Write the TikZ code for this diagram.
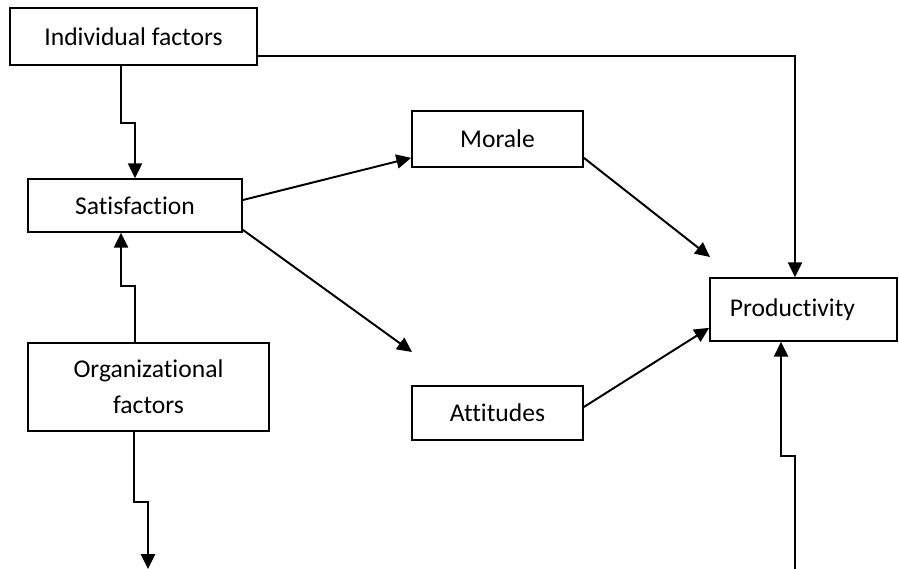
\documentclass[tikz,border=0pt]{standalone}
\usepackage{fontspec}
\setmainfont{Carlito}[Ligatures=NoCommon]
\usepackage{tikz}
\usetikzlibrary{arrows.meta,calc}
\tikzstyle{arrow} = [line width=1.4pt,-{Triangle[length=10.5pt,width=10pt]}]
\tikzstyle{factorbox} = [draw,rectangle,line width=1.2pt,inner sep=0pt,font=\fontsize{18.2}{25.5}\selectfont]

\begin{document}
\begin{tikzpicture}[x=0.025cm,y=-0.025cm]
\useasboundingbox (0,0) rectangle (899,569);
% Boxes
\node[factorbox,minimum width=6.175cm,minimum height=1.425cm] (ind) at (133.5,36.5) {Individual factors};
\node[factorbox,minimum width=5.35cm,minimum height=1.325cm] (sat) at (135,205.5) {Satisfaction};
\node[factorbox,minimum width=6.025cm,minimum height=2.2cm,align=center] (org) at (148.5,387) {Organizational\\factors};
\node[factorbox,minimum width=4.275cm,minimum height=1.4cm] (mor) at (497.5,139) {Morale};
\node[factorbox,minimum width=4.275cm,minimum height=1.35cm] (att) at (497.5,413) {Attitudes};
\node[factorbox,text width=3.675cm,inner xsep=0.5cm,minimum height=1.575cm,align=left] (pro) at (803.5,309.5) {Productivity};

% Free ends
\coordinate (attin) at (412,352);
\coordinate (proin) at (710,257);
\coordinate (orgout) at (148,569);
\coordinate (probelow) at (795,569);

% Connectors
\draw[arrow] ($(ind.south)+(-12.5,0)$) -- ++(0,57) -| (sat.north);
\draw[arrow] ($(org.north)+(-13.5,0)$) -- ++(0,-56) -| ($(sat.south)+(-14,0)$);
\draw[arrow] ($(org.south)+(-14.5,0)$) -- ++(0,70) -| (orgout);
\draw[arrow] ($(ind.south east)+(0,-10)$) -| ($(pro.north)+(-8.5,0)$);
\draw[arrow] ($(sat.east)+(0,-5.5)$) -- ($(mor.south west)+(0,-10)$);
\draw[arrow] ($(sat.south east)+(0,-3)$) -- (attin);
\draw[arrow] ($(mor.south east)+(0,-10)$) -- (proin);
\draw[arrow] ($(att.east)+(0,-6)$) -- ($(pro.south west)+(0,-14)$);
\draw[arrow] (probelow) -- ++(0,-113) -| ($(pro.south)+(-22.5,0)$);
\end{tikzpicture}
\end{document}
